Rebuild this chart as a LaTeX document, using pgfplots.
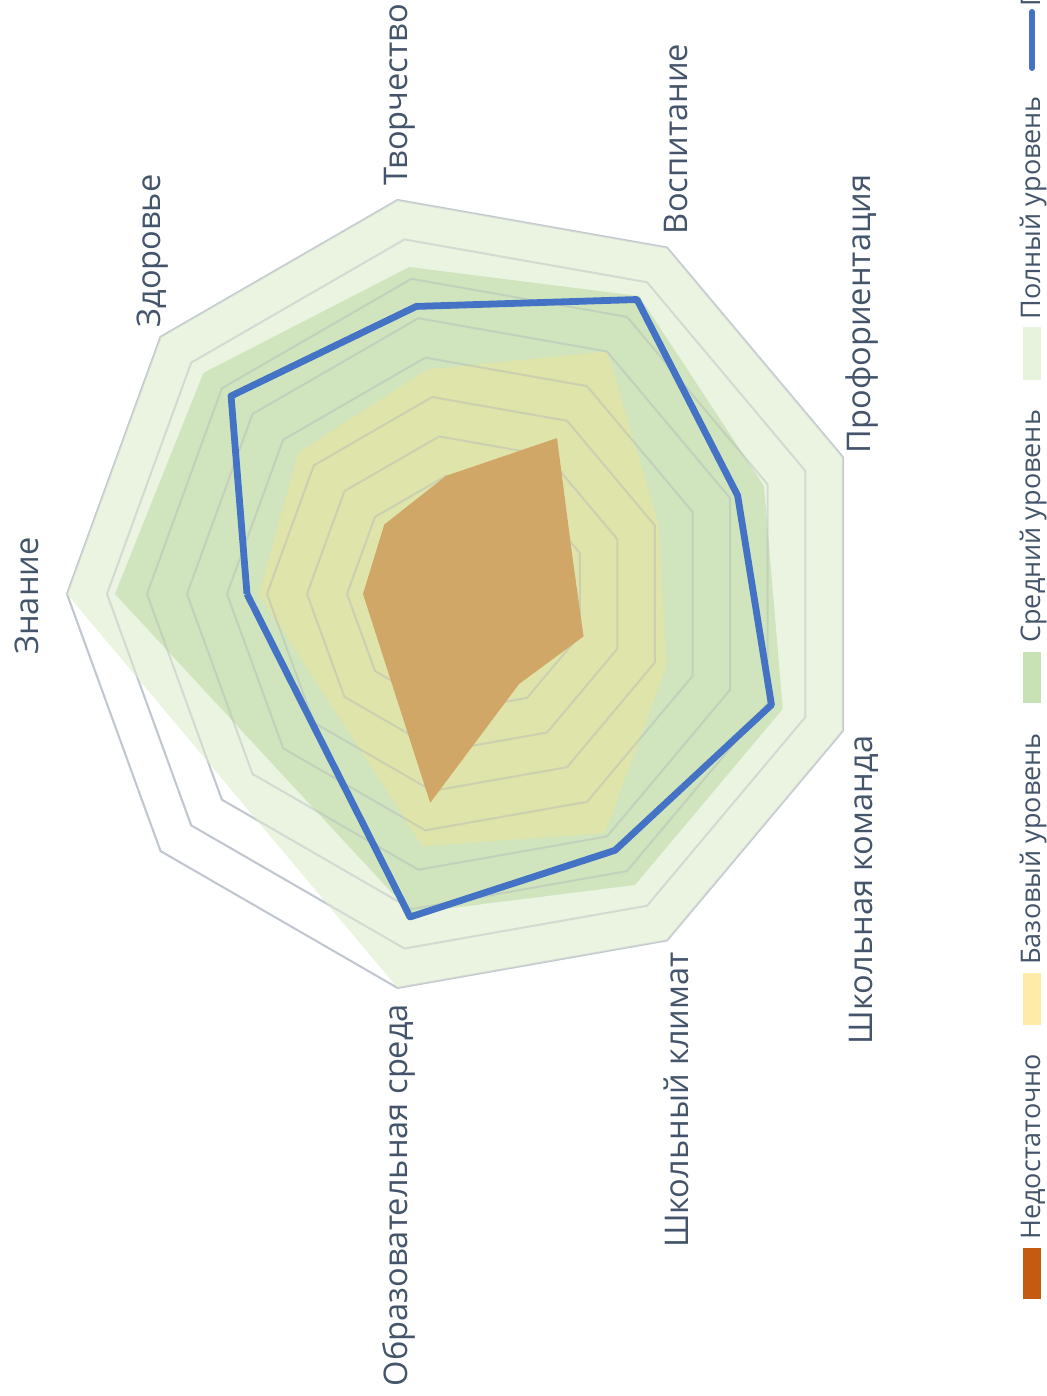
\documentclass[border=0pt]{standalone}
\usepackage{fontspec}
\setmainfont{Open Sans}
\usepackage{pgfplots}
\pgfplotsset{compat=1.18}
\definecolor{lbl}{HTML}{44546A}
\definecolor{cFull}{HTML}{EAF4E1}
\definecolor{cMid}{HTML}{D0E5BD}
\definecolor{cBase}{HTML}{DFE4AA}
\definecolor{cLow}{HTML}{D0A766}
\definecolor{lgFull}{HTML}{E8F3DE}
\definecolor{lgMid}{HTML}{C8E2B5}
\definecolor{lgBase}{HTML}{FFEBA8}
\definecolor{lgLow}{HTML}{C55A11}
\definecolor{ring}{HTML}{CDD4DD}
\definecolor{blueline}{HTML}{4472C4}
\begin{document}
\begin{tikzpicture}[x=0.5pt,y=0.5pt]
\useasboundingbox (0,0) rectangle (1047,1396);
\begin{axis}[at={(233.5pt,401pt)}, anchor=center, scale only axis,
  width=400pt, height=400pt, xmin=-100, xmax=100, ymin=-100, ymax=100,
  hide axis, clip=false, data cs=polar]
% grid rings (under the fills)
\pgfplotsinvokeforeach{10,20,30,40,50,60,70,80,90,100}{
\addplot[ring, line width=1pt] coordinates {(180,#1)(140,#1)(100,#1)(60,#1)(20,#1)(340,#1)(300,#1)(260,#1)(220,#1)(180,#1)};
}
% Полный уровень
\addplot[draw=none, fill=cFull] coordinates {(180,100)(140,100)(100,100)(60,100)(20,100)(340,100)(300,100)(260,100)(180,100)};
% Средний уровень
\addplot[draw=none, fill=cMid] coordinates {(180,88)(140,86)(100,83)(60,86)(20,79)(340,84)(300,84)(260,81)(180,88)};
% Базовый уровень
\addplot[draw=none, fill=cBase] coordinates {(180,52)(140,55)(100,57)(60,70)(20,51)(340,53)(300,69)(260,64)(180,52)};
% grid rings (faint, over the fills)
\pgfplotsinvokeforeach{10,20,30,40,50,60,70,80,90,100}{
\addplot[ring!85!black, line width=1pt, opacity=0.4] coordinates {(180,#1)(140,#1)(100,#1)(60,#1)(20,#1)(340,#1)(300,#1)(260,#1)(220,#1)(180,#1)};
}
% Недостаточно
\addplot[draw=none, fill=cLow] coordinates {(180,26)(140,27)(100,30)(60,45)(20,28)(340,31)(300,26)(260,53)(180,26)};
% blue series
\addplot[blueline, line width=3.4pt, line join=round] coordinates {(180,55)(140,77)(100,73)(60,85)(20,72)(340,81)(300,74)(260,82)(180,55)};
\end{axis}
\begin{scope}[every node/.style={text=lbl, font=\fontsize{16.3}{19}\selectfont, rotate=90, anchor=base, inner sep=0pt}]
\node at (39,800) {Знание};
\node at (160,1145) {Здоровье};
\node at (407,1301) {Творчество};
\node at (687,1257) {Воспитание};
\node at (870,1082) {Профориентация};
\node at (872,506) {Школьная команда};
\node at (688,296) {Школьный климат};
\node at (407,201) {Образовательная среда};
\end{scope}
% legend
\fill[lgLow] (1023,97) rectangle (1041,148);
\fill[lgBase] (1023,371) rectangle (1041,423);
\fill[lgMid] (1023,693) rectangle (1041,744);
\fill[lgFull] (1023,1016) rectangle (1041,1069);
\draw[blueline, line width=3pt, line cap=round] (1032,1328) -- (1032,1384);
\begin{scope}[every node/.style={text=lbl, font=\fontsize{13.5}{16}\selectfont, rotate=90, anchor=base west, inner sep=0pt}]
\node at (1040,156) {Недостаточно};
\node at (1040,431) {Базовый уровень};
\node at (1040,753) {Средний уровень};
\node at (1040,1076) {Полный уровень};
\node at (1040,1389) {Показатель};
\end{scope}
\end{tikzpicture}
\end{document}
